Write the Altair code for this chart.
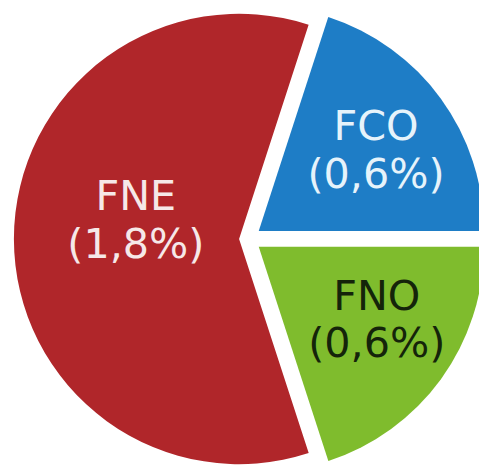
import altair as alt
import pandas as pd

categories = ["FCO", "FNO", "FNE"]
values = [0.6, 0.6, 1.8]
labels = ["FCO\n(0,6%)", "FNO\n(0,6%)", "FNE\n(1,8%)"]

fills = {"FCO": "#1e7dc6", "FNO": "#7fbc2d", "FNE": "#b0262a"}
text_colors = {"FCO": "#e6f3fb", "FNO": "#14240a", "FNE": "#f6e8e8"}
explode = {"FCO": (11, -8), "FNO": (11, 8), "FNE": (-9, 0)}
label_radius = {"FCO": 140, "FNO": 136, "FNE": 108}
label_shift = {"FCO": (6, -23), "FNO": (10, -29), "FNE": (3, -42)}

df = pd.DataFrame({"cat": categories, "value": values, "label": labels})

START = 0.314  # rotation of first slice (radians)

base = (
    alt.Chart(df)
    .transform_joinaggregate(total="sum(value)")
    .transform_window(cum="sum(value)", frame=[None, 0])
    .transform_calculate(
        t0=f"2*PI*(datum.cum-datum.value)/datum.total + {START}",
        t1=f"2*PI*datum.cum/datum.total + {START}",
    )
    .transform_calculate(mid="(datum.t0+datum.t1)/2")
)

layers = []
for c in categories:
    dx, dy = explode[c]
    arc = base.transform_filter(alt.datum.cat == c).mark_arc(
        radius=229, xOffset=dx, yOffset=dy, fill=fills[c]
    ).encode(
        theta=alt.Theta("t0:Q", scale=None),
        theta2="t1:Q",
    )
    sx, sy = label_shift[c]
    txt = base.transform_filter(alt.datum.cat == c).mark_text(
        font="DejaVu Sans",
        fontSize=42,
        lineBreak="\n",
        lineHeight=48,
        align="center",
        baseline="middle",
        color=text_colors[c],
        xOffset=dx + sx,
        yOffset=dy + sy,
    ).encode(
        theta=alt.Theta("mid:Q", scale=None),
        radius=alt.value(label_radius[c]),
        text="label:N",
    )
    layers += [arc, txt]

chart = (
    alt.layer(*layers)
    .properties(
        width=470,
        height=452,
        padding={"left": 9, "top": 5, "right": 0, "bottom": 0},
        autosize=alt.AutoSizeParams(type="none"),
        background="white",
    )
    .configure_view(strokeWidth=0)
)

chart.save("out.html", embed_options={"renderer": "svg", "actions": False})
